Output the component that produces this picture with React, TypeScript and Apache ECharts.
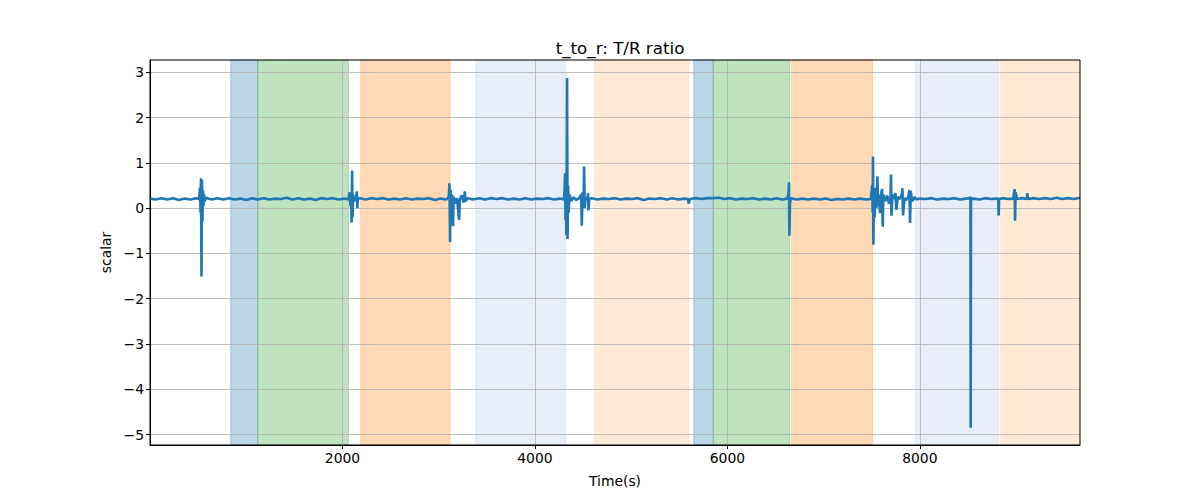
import React, { useEffect, useRef } from "react";
import * as echarts from "echarts";

const TITLE = "t_to_r: T/R ratio";
const X_NAME = "Time(s)";
const Y_NAME = "scalar";
const X_MIN = 0;
const X_MAX = 9664;
const Y_MIN = -5.23;
const Y_MAX = 3.27;
const xTicks = [2000, 4000, 6000, 8000];
const yTicks = [-5, -4, -3, -2, -1, 0, 1, 2, 3];

// Shaded intervals
const bandStart = [839, 1120, 2190, 3385, 4621, 5650, 5853, 6668, 7956, 8840];
const bandEnd = [1120, 2062, 3115, 4320, 5597, 5853, 6648, 7507, 8819, 9700];
const bandColor = [
  "rgba(31,119,180,0.3)",
  "rgba(44,160,44,0.3)",
  "rgba(255,127,14,0.3)",
  "rgba(174,199,232,0.3)",
  "rgba(255,187,120,0.3)",
  "rgba(31,119,180,0.3)",
  "rgba(44,160,44,0.3)",
  "rgba(255,127,14,0.3)",
  "rgba(174,199,232,0.3)",
  "rgba(255,187,120,0.3)",
];

// [time, value] samples of the T/R ratio
const signal: [number, number][] = [
  [0, 0.21], [60, 0.19], [120, 0.22], [180, 0.19], [240, 0.22], [300, 0.18], [360, 0.21], [420, 0.19], [480, 0.22],
  [510, 0.2], [520, 0.45], [525, -0.1], [530, 0.66], [535, -1.51], [540, 0.62], [545, -0.3], [550, 0.4], [555, 0.05], [560, 0.3], [570, 0.15], [580, 0.23],
  [640, 0.19], [700, 0.22], [760, 0.19], [820, 0.22], [880, 0.19], [940, 0.21], [1000, 0.18], [1060, 0.22], [1120, 0.19], [1180, 0.22], [1240, 0.19], [1300, 0.21], [1360, 0.2], [1420, 0.23], [1480, 0.19], [1540, 0.22], [1600, 0.19], [1660, 0.21], [1720, 0.18], [1780, 0.22], [1840, 0.2], [1900, 0.22], [1960, 0.19], [2020, 0.21], [2060, 0.19],
  [2075, 0.35], [2082, 0.05], [2090, 0.25], [2095, -0.32], [2100, 0.83], [2105, -0.2], [2110, 0.3], [2120, 0.15], [2140, 0.22], [2150, 0.37], [2155, 0.0], [2160, 0.2], [2180, 0.22],
  [2240, 0.19], [2300, 0.22], [2360, 0.2], [2420, 0.22], [2480, 0.19], [2540, 0.21], [2600, 0.19], [2660, 0.22], [2720, 0.19], [2780, 0.21], [2840, 0.2], [2900, 0.22], [2960, 0.18], [3020, 0.21], [3080, 0.19],
  [3105, 0.25], [3112, 0.55], [3118, -0.75], [3124, 0.4], [3130, -0.2], [3140, 0.3], [3149, -0.4], [3155, 0.25], [3170, 0.1], [3190, 0.22], [3212, -0.26], [3220, 0.2], [3240, 0.28], [3260, 0.12], [3271, 0.37], [3280, 0.15], [3300, 0.22],
  [3360, 0.19], [3420, 0.22], [3480, 0.19], [3540, 0.22], [3600, 0.2], [3660, 0.22], [3720, 0.19], [3780, 0.21], [3840, 0.19], [3900, 0.22], [3960, 0.19], [4020, 0.21], [4080, 0.2], [4140, 0.22], [4200, 0.19], [4260, 0.21], [4300, 0.19],
  [4308, 0.4], [4313, 0.77], [4318, -0.26], [4322, 0.3], [4327, -0.6], [4334, 2.87], [4339, -0.68], [4345, 0.5], [4350, -0.1], [4360, 0.3], [4380, 0.16], [4400, 0.24], [4430, 0.18], [4460, 0.22], [4480, 0.3], [4487, -0.39], [4495, 0.35], [4505, 0.1], [4511, 0.92], [4517, 0.0], [4525, 0.22], [4545, 0.2], [4552, 0.33], [4556, -0.05], [4565, 0.2], [4590, 0.22],
  [4650, 0.19], [4710, 0.21], [4770, 0.2], [4830, 0.22], [4890, 0.19], [4950, 0.21], [5010, 0.2], [5070, 0.22], [5130, 0.18], [5190, 0.21], [5250, 0.2], [5310, 0.22], [5370, 0.19], [5430, 0.22], [5490, 0.19], [5550, 0.21], [5590, 0.2], [5598, 0.1], [5610, 0.2], [5670, 0.22], [5730, 0.2], [5790, 0.22], [5850, 0.22], [5910, 0.23], [5970, 0.2], [6030, 0.22], [6090, 0.19], [6150, 0.21], [6210, 0.2], [6270, 0.22], [6330, 0.19], [6390, 0.21], [6450, 0.19], [6510, 0.22], [6570, 0.19], [6620, 0.21],
  [6635, 0.3], [6640, 0.57], [6644, -0.61], [6650, 0.1], [6660, 0.22],
  [6720, 0.19], [6780, 0.21], [6840, 0.19], [6900, 0.21], [6960, 0.19], [7020, 0.21], [7080, 0.18], [7140, 0.2], [7200, 0.19], [7260, 0.21], [7320, 0.19], [7380, 0.21], [7440, 0.19], [7490, 0.2],
  [7505, 0.5], [7510, -0.1], [7513, 1.14], [7517, -0.81], [7522, 0.4], [7530, -0.2], [7540, 0.45], [7550, 0.0], [7559, 0.7], [7565, 0.05], [7575, 0.3], [7586, -0.11], [7600, 0.35], [7608, 0.42], [7614, -0.41], [7620, 0.3], [7640, 0.15], [7660, 0.28], [7680, 0.1], [7695, 0.2], [7700, 0.74], [7705, -0.17], [7715, 0.3], [7730, 0.2], [7746, 0.33], [7756, -0.04], [7770, 0.25], [7790, 0.2], [7812, 0.3], [7819, 0.44], [7825, -0.16], [7840, 0.22], [7860, 0.18], [7880, 0.25], [7892, 0.4], [7898, -0.33], [7905, 0.38], [7920, 0.15], [7946, 0.25], [7960, 0.19],
  [8000, 0.21], [8060, 0.2], [8120, 0.22], [8180, 0.19], [8240, 0.21], [8300, 0.2], [8360, 0.22], [8420, 0.19], [8480, 0.21], [8520, 0.22], [8526, 0.25], [8528, -4.85], [8531, 0.2], [8560, 0.21], [8620, 0.19], [8680, 0.22], [8740, 0.2], [8800, 0.21], [8815, 0.2], [8819, -0.16], [8823, 0.2], [8860, 0.22], [8920, 0.2], [8970, 0.21], [8985, 0.42], [8989, -0.28], [8995, 0.35], [9010, 0.2], [9060, 0.22], [9110, 0.2], [9117, 0.33], [9125, 0.2], [9180, 0.22], [9240, 0.2], [9300, 0.22], [9360, 0.2], [9420, 0.23], [9480, 0.2], [9540, 0.22], [9600, 0.2], [9664, 0.23],
];

const FONT = "DejaVu Sans";
const minus = (v: number) => String(v).replace("-", "\u2212");

export default function App() {
  const ref = useRef<HTMLDivElement>(null);
  useEffect(() => {
    if (!ref.current) return;
    const chart = echarts.init(ref.current, undefined, { renderer: "svg" });
    const areas = bandStart.map((s, i) => [
      { xAxis: s, itemStyle: { color: bandColor[i], borderColor: bandColor[i], borderWidth: 1 } },
      { xAxis: bandEnd[i] },
    ]);
    chart.setOption({
      animation: false,
      backgroundColor: "#fff",
      textStyle: { fontFamily: FONT },
      title: {
        text: TITLE,
        left: 615,
        top: 34,
        textAlign: "center",
        textStyle: { fontFamily: FONT, fontSize: 16.7, fontWeight: "normal", color: "#000" },
      },
      grid: {
        left: 150,
        right: 120,
        top: 60,
        bottom: 55,
        show: true,
        borderColor: "#000",
        borderWidth: 1,
        backgroundColor: "transparent",
        z: 4,
      },
      xAxis: {
        type: "value",
        min: X_MIN,
        max: X_MAX,
        z: 2,
        name: X_NAME,
        nameLocation: "middle",
        nameGap: 29,
        nameTextStyle: { fontFamily: FONT, fontSize: 13.9, color: "#000" },
        axisLine: { show: true, onZero: false, lineStyle: { color: "#000", width: 1 } },
        axisTick: { show: true, length: 4, customValues: xTicks, lineStyle: { color: "#000" } },
        axisLabel: {
          customValues: xTicks,
          margin: 6,
          fontFamily: FONT,
          fontSize: 13.9,
          color: "#000",
          formatter: (v: number) => minus(v),
        },
        splitLine: { show: true, lineStyle: { color: "#b0b0b0", width: 0.8 } },
      },
      yAxis: {
        type: "value",
        min: Y_MIN,
        max: Y_MAX,
        z: 2,
        name: Y_NAME,
        nameLocation: "middle",
        nameGap: 36,
        nameTextStyle: { fontFamily: FONT, fontSize: 13.9, color: "#000" },
        axisLine: { show: true, onZero: false, lineStyle: { color: "#000", width: 1 } },
        axisTick: { show: true, length: 4, customValues: yTicks, lineStyle: { color: "#000" } },
        axisLabel: {
          customValues: yTicks,
          margin: 6,
          fontFamily: FONT,
          fontSize: 13.9,
          color: "#000",
          formatter: (v: number) => minus(v),
        },
        splitLine: { show: true, lineStyle: { color: "#b0b0b0", width: 0.8 } },
      },
      series: [
        {
          type: "line",
          z: 0,
          data: [],
          silent: true,
          markArea: { silent: true, z: 0, data: areas },
        },
        {
          type: "line",
          z: 3,
          data: signal,
          showSymbol: false,
          symbol: "none",
          clip: true,
          lineStyle: { color: "#1f77b4", width: 2.6 },
        },
      ],
    });
    return () => chart.dispose();
  }, []);
  return <div ref={ref} style={{ position: "absolute", left: 0, top: 0, width: 1200, height: 500 }} />;
}
